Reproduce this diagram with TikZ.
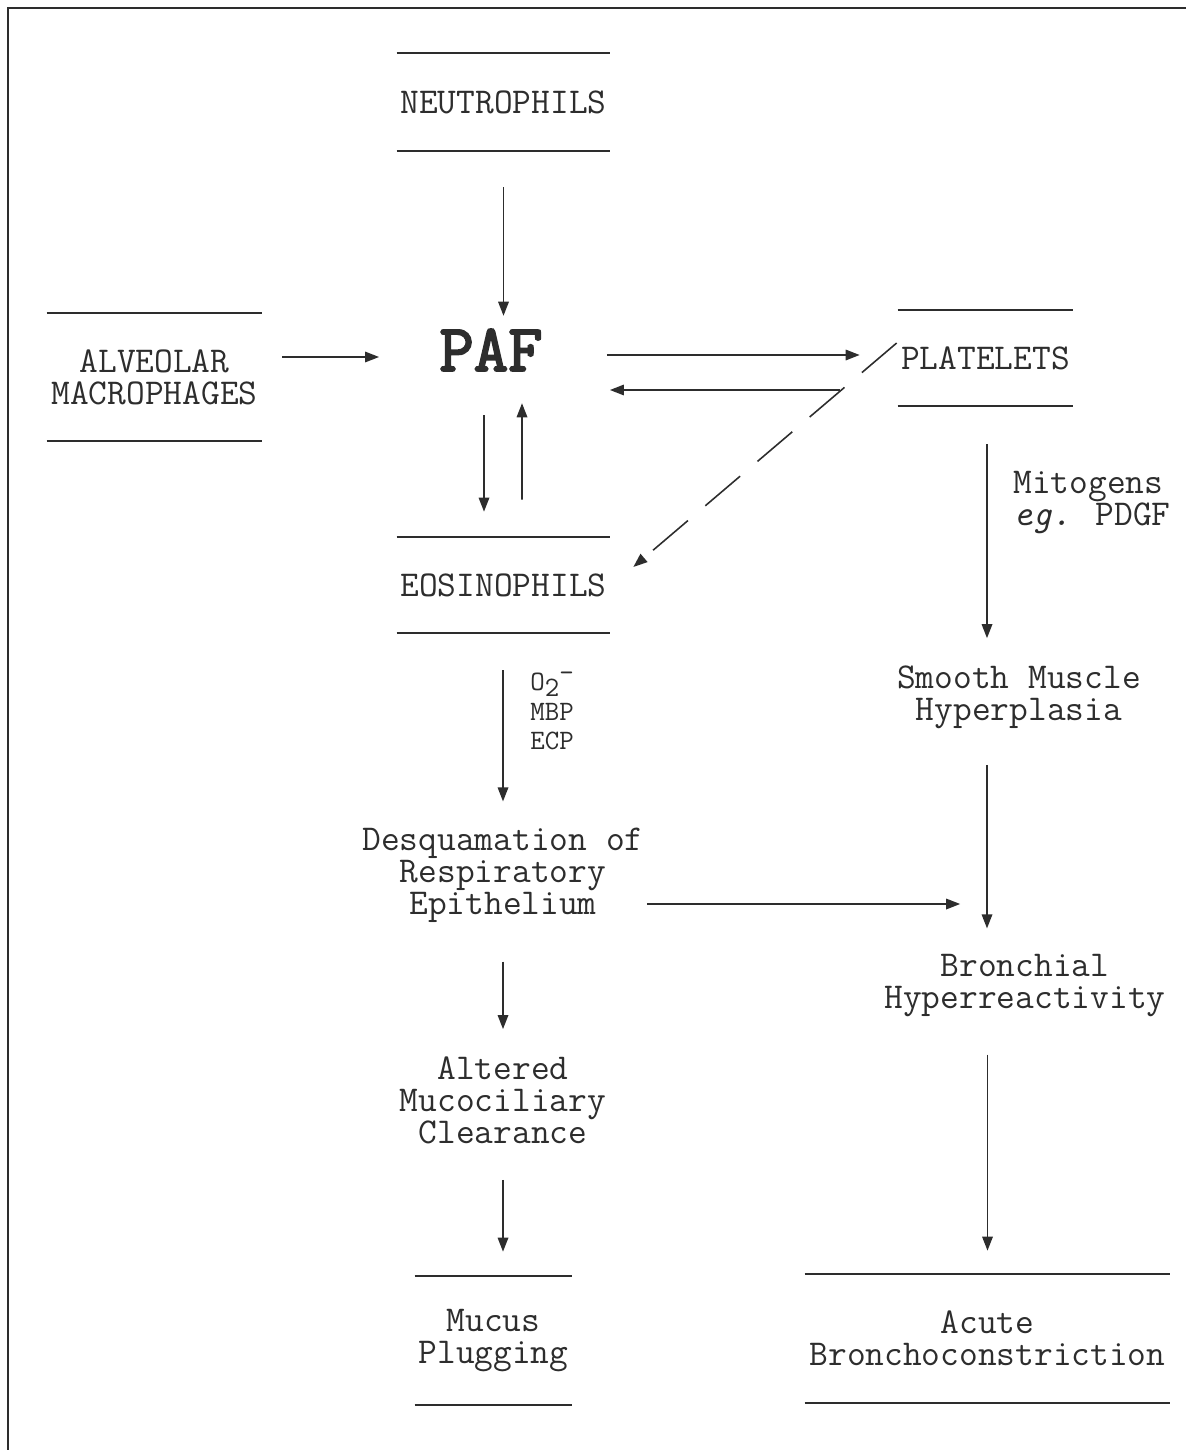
\documentclass[tikz,border=0pt]{standalone}
\usepackage{fontspec}
\newfontfamily\paffont[FakeBold=3]{Latin Modern Mono}
\usetikzlibrary{arrows.meta,calc}
\definecolor{ink}{RGB}{45,45,45}
\tikzset{
  lbl/.style={align=center, inner sep=0pt, text=ink, font=\ttfamily\fontsize{20.7}{18.2}\selectfont},
  arr/.style={-{Triangle[length=8pt,width=6pt]}, line width=0.9pt, draw=ink},
  bar/.style={line width=1pt, draw=ink}
}
\begin{document}
\begin{tikzpicture}[x=0.02cm, y=-0.02cm]
\useasboundingbox (0,0) rectangle (1186,1450);
\draw[line width=1.6pt, ink] (8,1450) -- (8,8) -- (1186,8);

% cells between two rules
\node[lbl, minimum width=4.26cm, minimum height=1.96cm] at (503.5,102) (neu) {NEUTROPHILS};
\node[lbl, minimum width=4.3cm, minimum height=2.56cm] at (154.5,377) (alv) {ALVEOLAR\\MACROPHAGES};
\node[lbl, minimum width=3.5cm, minimum height=1.92cm] at (985.5,358) (plt) {PLATELETS};
\node[lbl, minimum width=4.26cm, minimum height=1.92cm] at (503.5,585) (eos) {EOSINOPHILS};
\node[lbl, minimum width=3.14cm, minimum height=2.58cm] at (493.5,1340.5) (muc) {Mucus\\Plugging};
\node[lbl, minimum width=7.3cm, minimum height=2.58cm] at (987.5,1338.5) (acu) {Acute\\Bronchoconstriction};
\foreach \n in {neu,alv,plt,eos,muc,acu}
  \draw[bar] (\n.north west) -- (\n.north east) (\n.south west) -- (\n.south east);

% plain labels
\node[lbl, font=\paffont\fontsize{38}{40}\selectfont] at (491,350) (paf) {PAF};
\node[lbl] at (1019,697) (smo) {Smooth Muscle\\Hyperplasia};
\node[lbl, align=left] at (1092,503) (mit) {Mitogens\\\textit{eg.} PDGF};
\node[lbl, align=left, anchor=north west, font=\ttfamily\fontsize{16}{16.6}\selectfont] at (530,672) (oxy)
  {O\raisebox{-0.45ex}{2}\raisebox{0.75ex}{-}\\MBP\\ECP};
\node[lbl] at (503,875) (des) {Desquamation of\\Respiratory\\Epithelium};
\node[lbl] at (503,1100) (alt) {Altered\\Mucociliary\\Clearance};
\node[lbl] at (1025,986) (bro) {Bronchial\\Hyperreactivity};

% arrows
\draw[arr] ($(neu.south)+(0,36)$) -- ($(neu.south |- paf.north)+(0,-13)$);
\draw[arr] ($(alv.east)+(20,-20)$) -- ($(alv.east -| paf.west)+(-60,-20)$);
\draw[arr] ($(paf.east)+(64,5)$) -- ($(paf.east -| plt.west)+(-38,5)$);
\draw[arr] ($(plt.west)+(-58,32)$) -- ($(paf.east)+(67,40)$);
\draw[arr] ($(paf.south)+(-7,44)$) -- ($(eos.north)+(-19.5,-25)$);
\draw[arr] ($(eos.north)+(18.5,-37)$) -- ($(paf.south)+(31,32)$);
\draw[arr, dash pattern=on 26pt off 13pt] ($(plt.west)+(-1,-15)$) -- ($(eos.east)+(23,-18)$);
\draw[arr] ($(plt.south)+(1.5,38)$) -- ($(plt.south |- smo.north)+(1.5,-27)$);
\draw[arr] ($(smo.south -| plt.south)+(1.5,36)$) -- ($(plt.south |- bro.north)+(1.5,-26)$);
\draw[arr] ($(eos.south)+(-0.5,37)$) -- ($(des.north)+(0,-26)$);
\draw[arr] ($(des.east)+(3,29)$) -- ($(des.east -| bro.west)+(76,29)$);
\draw[arr] ($(des.south)+(0,39)$) -- ($(alt.north)+(0,-27)$);
\draw[arr] ($(alt.south)+(0,36)$) -- ($(alt.south |- muc.north)+(0,-24)$);
\draw[arr] ($(bro.south -| acu.north)+(0,37)$) -- ($(acu.north)+(0,-23)$);
\end{tikzpicture}
\end{document}
